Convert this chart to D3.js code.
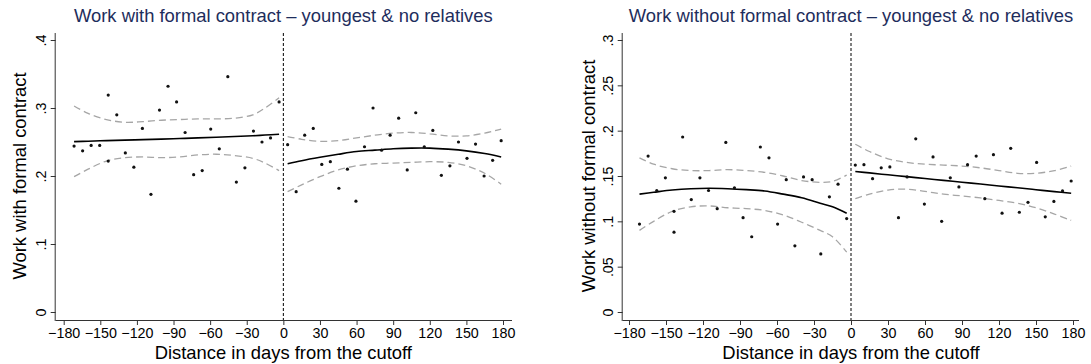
<!DOCTYPE html>
<html>
<head>
<meta charset="utf-8">
<script src="https://cdn.jsdelivr.net/npm/d3@7"></script>
<style>
  html, body { margin: 0; padding: 0; background: #fff; }
  svg { display: block; }
  text { font-family: "Liberation Sans", Arial, Helvetica, sans-serif; }
</style>
</head>
<body>
<svg id="chart" width="1091" height="364"></svg>
<script>
// ---------------- DATA ----------------
const xTicks = [-180, -150, -120, -90, -60, -30, 0, 30, 60, 90, 120, 150, 180];
const formalYTicks = [0, 0.1, 0.2, 0.3, 0.4];
const formalYTickLabels = ["0", ".1", ".2", ".3", ".4"];
const informalYTicks = [0, 0.05, 0.1, 0.15, 0.2, 0.25, 0.3];
const informalYTickLabels = ["0", ".05", ".1", ".15", ".2", ".25", ".3"];

const titles = ["Work with formal contract \u2013 youngest & no relatives",
                "Work without formal contract \u2013 youngest & no relatives"];
const yTitles = ["Work with formal contract", "Work without formal contract"];
const xTitle = "Distance in days from the cutoff";

// bin centres (days)
const binDaysPre = [-171.5, -164.5, -157.5, -150.5, -143.5, -143.5, -136.5, -129.5, -122.5, -115.5,
  -108.5, -101.5, -94.5, -87.5, -80.5, -73.5, -66.5, -59.5, -52.5, -45.5, -38.5, -31.5, -24.5, -17.5, -10.5, -3.5];
const binDaysPost = [3.5, 10.5, 17.5, 24.5, 31.5, 38.5, 45.5, 52.5, 59.5, 66.5, 73.5, 80.5, 87.5,
  94.5, 101.5, 108.5, 115.5, 122.5, 129.5, 136.5, 143.5, 150.5, 157.5, 164.5, 171.5, 178.5];

// binned means – formal contract
const formalPre = [0.244, 0.237, 0.245, 0.245, 0.319, 0.222, 0.290, 0.234, 0.213, 0.270,
  0.173, 0.297, 0.332, 0.309, 0.264, 0.202, 0.208, 0.269, 0.240, 0.346, 0.191, 0.212, 0.266, 0.250, 0.256, 0.309];
const formalPost = [0.246, 0.177, 0.260, 0.270, 0.217, 0.221, 0.182, 0.210, 0.163, 0.243, 0.300, 0.238, 0.260,
  0.285, 0.209, 0.293, 0.243, 0.267, 0.201, 0.215, 0.250, 0.226, 0.247, 0.200, 0.223, 0.252];

// binned means – without formal contract
const informalPre = [0.097, 0.172, 0.134, 0.148, 0.111, 0.088, 0.193, 0.124, 0.148, 0.134,
  0.114, 0.187, 0.137, 0.104, 0.083, 0.182, 0.170, 0.097, 0.146, 0.073, 0.149, 0.146, 0.064, 0.127, 0.141, 0.103];
const informalPost = [0.162, 0.1625, 0.147, 0.159, 0.160, 0.104, 0.149, 0.191, 0.119, 0.171, 0.100, 0.148, 0.138,
  0.1625, 0.172, 0.125, 0.1735, 0.109, 0.1805, 0.110, 0.121, 0.165, 0.105, 0.122, 0.1335, 0.1445];

// fitted polynomial and 95% CI, sampled at these days
const fitDaysPre = [-171.5, -160, -145, -130, -115, -100, -85, -70, -55, -40, -25, -15, -3.5];
const fitDaysPost = [3.5, 15, 30, 45, 60, 75, 90, 105, 120, 135, 150, 165, 178.5];

const formalFitPre   = [0.2505, 0.2512, 0.2520, 0.2527, 0.2535, 0.2543, 0.2551, 0.2560, 0.2569, 0.2580, 0.2592, 0.2602, 0.2615];
const formalUpperPre = [0.303, 0.292, 0.283, 0.279, 0.280, 0.282, 0.283, 0.284, 0.284, 0.285, 0.290, 0.300, 0.315];
const formalLowerPre = [0.199, 0.210, 0.222, 0.227, 0.228, 0.227, 0.228, 0.231, 0.232, 0.230, 0.226, 0.219, 0.208];
const formalFitPost   = [0.218, 0.2225, 0.2275, 0.232, 0.236, 0.238, 0.240, 0.241, 0.241, 0.2395, 0.237, 0.233, 0.228];
const formalUpperPost = [0.258, 0.254, 0.251, 0.252, 0.256, 0.260, 0.263, 0.264, 0.262, 0.259, 0.259, 0.263, 0.269];
const formalLowerPost = [0.177, 0.187, 0.199, 0.209, 0.215, 0.218, 0.219, 0.220, 0.221, 0.220, 0.215, 0.204, 0.188];

const informalFitPre   = [0.130, 0.132, 0.1345, 0.136, 0.1365, 0.136, 0.135, 0.1335, 0.130, 0.126, 0.120, 0.116, 0.109];
const informalUpperPre = [0.170, 0.163, 0.158, 0.156, 0.156, 0.157, 0.156, 0.154, 0.150, 0.145, 0.143, 0.144, 0.151];
const informalLowerPre = [0.090, 0.100, 0.111, 0.116, 0.117, 0.115, 0.114, 0.112, 0.107, 0.099, 0.090, 0.083, 0.066];
const informalFitPost   = [0.155, 0.1534, 0.1513, 0.1493, 0.1472, 0.1452, 0.1431, 0.1411, 0.139, 0.137, 0.1349, 0.1328, 0.131];
const informalUpperPost = [0.185, 0.177, 0.169, 0.165, 0.163, 0.162, 0.161, 0.159, 0.156, 0.153, 0.153, 0.156, 0.161];
const informalLowerPost = [0.125, 0.130, 0.1345, 0.1355, 0.133, 0.130, 0.128, 0.1258, 0.123, 0.120, 0.115, 0.108, 0.101];

// ---------------- LAYOUT ----------------
const panels = [
  {
    title: titles[0], yTitle: yTitles[0],
    yTicks: formalYTicks, yTickLabels: formalYTickLabels, yMax: 0.4,
    axisX: 55.7, plotRight: 512, xRange: [63.7, 503], yTitleX: 26,
    pre: formalPre, post: formalPost,
    fitPre: formalFitPre, upPre: formalUpperPre, loPre: formalLowerPre,
    fitPost: formalFitPost, upPost: formalUpperPost, loPost: formalLowerPost
  },
  {
    title: titles[1], yTitle: yTitles[1],
    yTicks: informalYTicks, yTickLabels: informalYTickLabels, yMax: 0.3,
    axisX: 622.7, plotRight: 1079, xRange: [629, 1073], yTitleX: 595,
    pre: informalPre, post: informalPost,
    fitPre: informalFitPre, upPre: informalUpperPre, loPre: informalLowerPre,
    fitPost: informalFitPost, upPost: informalUpperPost, loPost: informalLowerPost
  }
];

const plotTop = 33, axisY = 320, yZeroPx = 312, yMaxPx = 40;
const titleColor = "#1e2d5c";
const axisColor = "#333";

const svg = d3.select("#chart");

panels.forEach(p => {
  const x = d3.scaleLinear().domain([-180, 180]).range(p.xRange);
  const y = d3.scaleLinear().domain([0, p.yMax]).range([yZeroPx, yMaxPx]);
  const g = svg.append("g");
  const cx = x(0);

  // title
  g.append("text").attr("x", cx).attr("y", 22).attr("text-anchor", "middle")
    .attr("font-size", 18.4).attr("fill", titleColor).text(p.title);

  // x axis
  const xAxis = d3.axisBottom(x).tickValues(xTicks).tickSize(5).tickPadding(3)
    .tickFormat(d => d < 0 ? "\u2212" + Math.abs(d) : String(d));
  const gx = g.append("g").attr("transform", `translate(0,${axisY})`).call(xAxis);
  gx.select(".domain").remove();
  gx.selectAll(".tick line").attr("stroke", axisColor);
  gx.selectAll(".tick text").attr("font-size", 14.3).attr("fill", "#000")
    .attr("font-family", "Liberation Sans, Arial, sans-serif").attr("dy", "0.71em");
  g.append("line").attr("x1", p.axisX).attr("x2", p.plotRight).attr("y1", axisY + 0.5).attr("y2", axisY + 0.5)
    .attr("stroke", axisColor).attr("stroke-width", 1);

  // y axis
  const yAxis = d3.axisLeft(y).tickValues(p.yTicks).tickSize(5)
    .tickFormat((d, i) => p.yTickLabels[i]);
  const gy = g.append("g").attr("transform", `translate(${p.axisX},0)`).call(yAxis);
  gy.select(".domain").remove();
  gy.selectAll(".tick line").attr("stroke", axisColor);
  gy.selectAll(".tick text").attr("font-size", 14.3).attr("fill", "#000")
    .attr("font-family", "Liberation Sans, Arial, sans-serif")
    .attr("x", null).attr("dy", null)
    .attr("text-anchor", "middle")
    .attr("transform", "translate(-10,0) rotate(-90)");
  g.append("line").attr("x1", p.axisX - 0.5).attr("x2", p.axisX - 0.5).attr("y1", plotTop).attr("y2", axisY + 1)
    .attr("stroke", axisColor).attr("stroke-width", 1);

  // axis titles
  g.append("text").attr("x", cx).attr("y", 358.5).attr("text-anchor", "middle")
    .attr("font-size", 18.4).attr("fill", "#000").text(xTitle);
  g.append("text").attr("transform", `translate(${p.yTitleX},${(yZeroPx + yMaxPx) / 2}) rotate(-90)`)
    .attr("text-anchor", "middle").attr("font-size", 18.4).attr("fill", "#000").text(p.yTitle);

  // cutoff line
  g.append("line").attr("x1", cx).attr("x2", cx).attr("y1", plotTop).attr("y2", axisY)
    .attr("stroke", "#000").attr("stroke-width", 1).attr("stroke-dasharray", "3,2");

  const line = d3.line().curve(d3.curveCatmullRom.alpha(0.5)).x(d => x(d[0])).y(d => y(d[1]));

  const segs = [
    [fitDaysPre, p.fitPre, p.upPre, p.loPre],
    [fitDaysPost, p.fitPost, p.upPost, p.loPost]
  ];
  segs.forEach(([days, fit, up, lo]) => {
    [up, lo].forEach(arr => {
      g.append("path").attr("d", line(days.map((d, i) => [d, arr[i]])))
        .attr("fill", "none").attr("stroke", "#a6a6a6").attr("stroke-width", 1.3)
        .attr("stroke-dasharray", "7,4");
    });
    g.append("path").attr("d", line(days.map((d, i) => [d, fit[i]])))
      .attr("fill", "none").attr("stroke", "#000").attr("stroke-width", 1.6);
  });

  // binned scatter
  const pts = binDaysPre.map((d, i) => [d, p.pre[i]]).concat(binDaysPost.map((d, i) => [d, p.post[i]]));
  g.selectAll("circle.pt").data(pts).enter().append("circle").attr("class", "pt")
    .attr("cx", d => x(d[0])).attr("cy", d => y(d[1])).attr("r", 1.6).attr("fill", "#111");
});
</script>
</body>
</html>
